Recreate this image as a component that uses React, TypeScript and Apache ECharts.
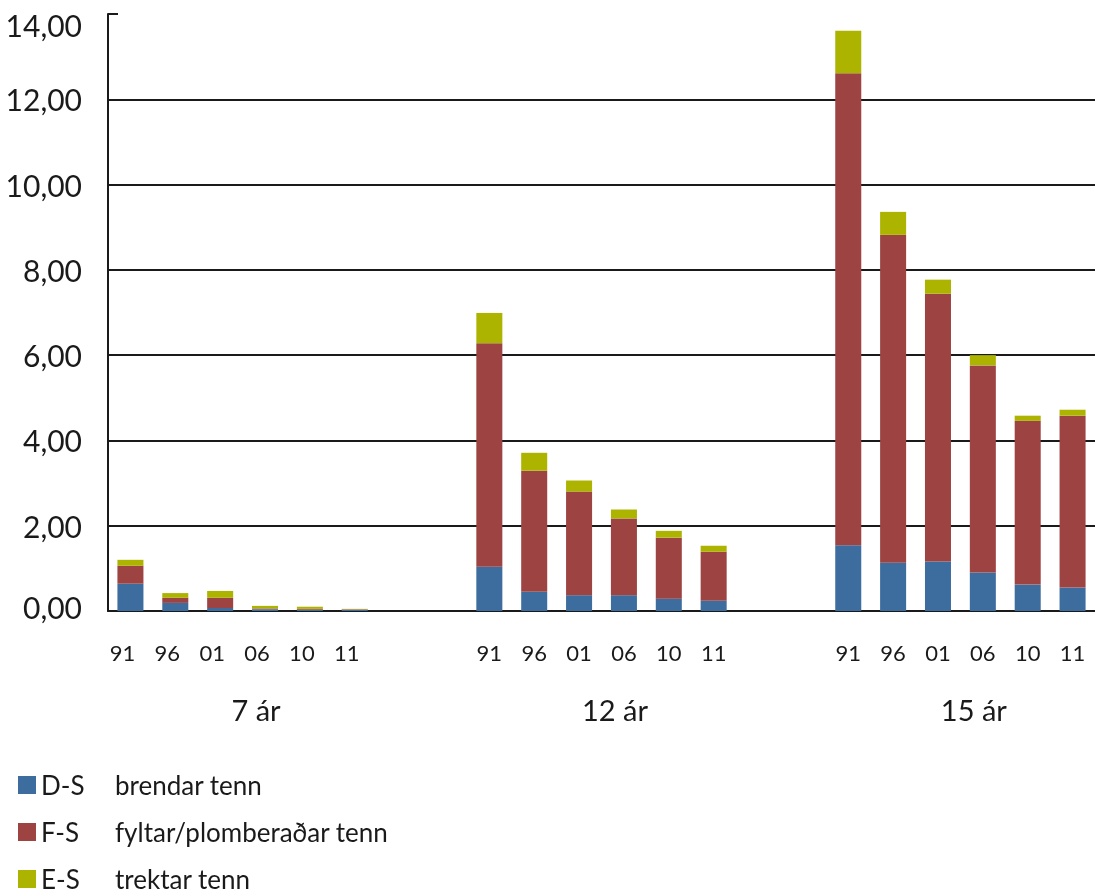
import React, { useEffect, useRef } from "react";
import * as echarts from "echarts";

const yearLabels = ["91", "96", "01", "06", "10", "11", "", "", "91", "96", "01", "06", "10", "11", "", "", "91", "96", "01", "06", "10", "11"];
const groupLabels = ["", "", "", "7 ár", "", "", "", "", "", "", "", "12 ár", "", "", "", "", "", "", "", "15 ár", "", ""];
const seriesNames = ["D-S", "F-S", "E-S"];
const seriesDesc = ["brendar tenn", "fyltar/plomberaðar tenn", "trektar tenn"];
const dsValues = [0.64, 0.19, 0.07, 0.04, 0.03, 0.03, null, null, 1.04, 0.45, 0.37, 0.37, 0.29, 0.24, null, null, 1.54, 1.13, 1.16, 0.9, 0.62, 0.55];
const fsValues = [0.42, 0.12, 0.24, 0.02, 0.02, 0.01, null, null, 5.24, 2.84, 2.43, 1.8, 1.43, 1.15, null, null, 11.07, 7.69, 6.28, 4.86, 3.84, 4.03];
const esValues = [0.14, 0.11, 0.16, 0.06, 0.05, 0.01, null, null, 0.71, 0.42, 0.26, 0.21, 0.16, 0.14, null, null, 1.0, 0.54, 0.33, 0.24, 0.12, 0.14];
const colors = ["#3d6c9e", "#9d4443", "#acb400"];

const FONT = "Lato";
const TXT = "#1a1a1a";

export default function App() {
  const ref = useRef<HTMLDivElement>(null);
  useEffect(() => {
    if (!ref.current) return;
    const chart = echarts.init(ref.current, null, { renderer: "svg" });
    const values = [dsValues, fsValues, esValues];
    const legends = seriesNames.map((name, i) => ({
      orient: "vertical",
      left: 18,
      top: 772 + i * 47,
      padding: 0,
      itemWidth: 18,
      itemHeight: 18,
      icon: "rect",
      data: [name],
      formatter: (n: string) => `{a|${n}}{b|${seriesDesc[seriesNames.indexOf(n)]}}`,
      textStyle: {
        fontFamily: FONT,
        fontSize: 26,
        color: TXT,
        rich: {
          a: { width: 74, fontSize: 26, fontFamily: FONT, color: TXT },
          b: { fontSize: 26, fontFamily: FONT, color: TXT },
        },
      },
    }));
    const option = {
      animation: false,
      textStyle: { fontFamily: FONT, color: TXT },
      grid: { left: 108, right: 0, top: 14, bottom: 284, containLabel: false },
      legend: legends,
      xAxis: [
        {
          type: "category",
          data: yearLabels.map((v, i) => (i < 6 ? { value: v, textStyle: { padding: [0, 16, 0, 0] } } : v)),
          axisLine: { show: true, lineStyle: { color: TXT, width: 2 } },
          axisTick: { show: false },
          axisLabel: { interval: 0, margin: 30, fontSize: 22, fontFamily: FONT, color: TXT },
          splitLine: { show: false },
        },
        {
          type: "category",
          position: "bottom",
          data: groupLabels,
          axisLine: { show: false },
          axisTick: { show: false },
          axisLabel: { interval: 0, margin: 84, fontSize: 29, fontFamily: FONT, color: TXT, padding: [0, 18, 0, 0] },
          splitLine: { show: false },
        },
      ],
      yAxis: {
        type: "value",
        min: 0,
        max: 14,
        interval: 2,
        axisLine: { show: true, lineStyle: { color: TXT, width: 2 } },
        axisTick: { show: true, inside: true, length: 10, lineStyle: { color: TXT, width: 2 } },
        axisLabel: {
          margin: 26,
          fontSize: 30,
          fontFamily: FONT,
          color: TXT,
          formatter: (v: number) => {
            const s = v.toFixed(2).replace(".", ",");
            if (v === 14) return `{top|${s}}`;
            if (v === 0) return `{bot|${s}}`;
            return s;
          },
          rich: {
            top: { fontSize: 30, fontFamily: FONT, color: TXT, padding: [22, 0, 0, 0] },
            bot: { fontSize: 30, fontFamily: FONT, color: TXT, padding: [0, 0, 8, 0] },
          },
        },
        splitLine: {
          show: true,
          lineStyle: {
            color: [TXT, TXT, TXT, TXT, TXT, TXT, TXT, "rgba(0,0,0,0)"],
            width: 2,
          },
        },
      },
      series: seriesNames.map((name, i) => ({
        name,
        type: "bar",
        stack: "total",
        xAxisIndex: 0,
        barWidth: "58%",
        itemStyle: { color: colors[i] },
        data: values[i],
      })),
    };
    chart.setOption(option as any);
    return () => chart.dispose();
  }, []);
  return <div ref={ref} style={{ position: "fixed", left: 0, top: 0, width: 1095, height: 895 }} />;
}
